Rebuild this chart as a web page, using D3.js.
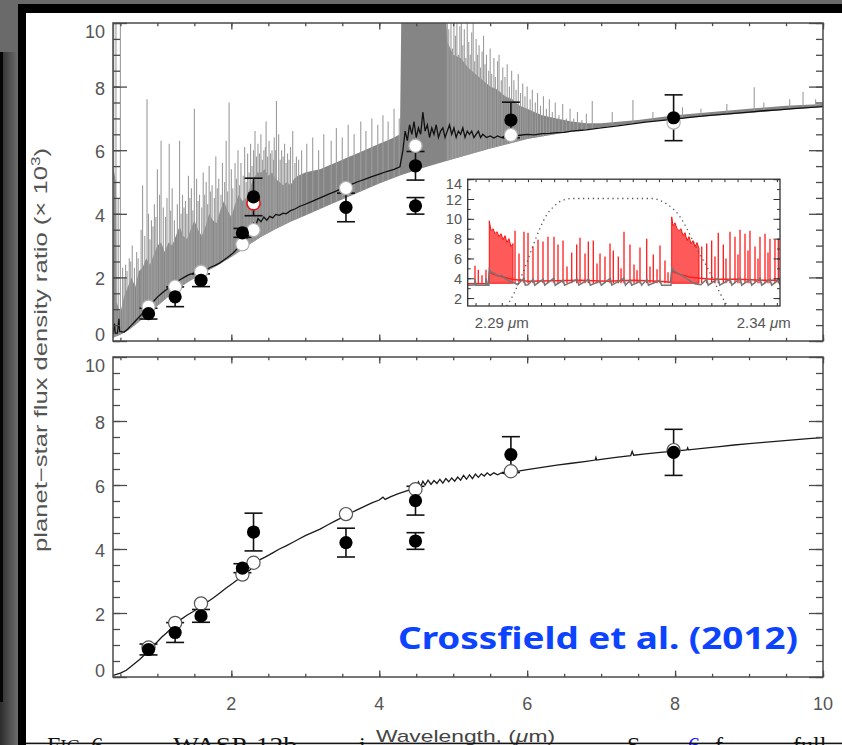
<!DOCTYPE html>
<html>
<head>
<meta charset="utf-8">
<script src="https://cdn.jsdelivr.net/npm/d3@7"></script>
<style>
  html, body { margin: 0; padding: 0; background: #fff; }
  svg { display: block; }
</style>
</head>
<body>
<svg id="chart" width="842" height="745"></svg>
<script>
// ---------------- data ----------------
// Measured planet/star flux ratios (x 10^3) with 1-sigma errors
const obsWave  = [0.88, 1.24, 1.59, 2.15, 2.30, 3.55, 4.49, 4.49, 5.78, 7.98];
const obsRatio = [0.86, 1.39, 1.91, 3.40, 4.53, 4.20, 5.51, 4.25, 6.95, 7.02];
const obsErr   = [0.17, 0.31, 0.20, 0.14, 0.59, 0.45, 0.45, 0.26, 0.56, 0.72];

// Band-integrated model fluxes
const bandWave        = [0.88, 1.24, 1.59, 2.15, 2.30, 3.55, 4.49, 5.78, 7.98];
const bandEmission    = [1.08, 1.71, 2.18, 3.04, 3.49, 4.81, 6.14, 6.48, 6.87];
const bandBlackbody   = [0.92, 1.69, 2.30, 3.20, 3.57, 5.09, 5.87, 6.43, 7.09];
const narrowBandWave  = [2.30];
const narrowBandValue = [4.33];

// Emission-line model: lower continuum, dense upper envelope and individual lines
const emissionFloor = [[0.40,0.10],[0.50,0.20],[0.60,0.32],[0.70,0.50],[0.80,0.70],[0.90,0.90],[1.00,1.10],[1.10,1.30],[1.20,1.50],[1.30,1.68],[1.40,1.83],[1.50,1.97],[1.60,2.10],[1.70,2.23],[1.80,2.36],[1.90,2.50],[2.00,2.64],[2.10,2.80],[2.20,2.97],[2.30,3.12],[2.40,3.27],[2.60,3.52],[2.80,3.75],[3.00,3.95],[3.30,4.25],[3.60,4.55],[4.00,4.95],[4.30,5.22],[4.60,5.45],[5.00,5.72],[5.50,6.05],[6.00,6.35],[6.50,6.55],[7.00,6.72],[7.50,6.86],[8.00,6.98],[8.50,7.08],[9.00,7.17],[9.50,7.27],[10.0,7.36]];

const emissionBand = [[0.40,5.5],[0.44,5.0],[0.45,1.2],[0.50,0.9],[0.55,1.4],[0.60,1.7],[0.65,2.0],[0.70,1.7],[0.75,2.2],[0.80,2.3],[0.85,2.6],[0.90,2.4],[0.95,2.7],[1.00,3.0],[1.05,3.1],[1.10,2.8],[1.15,3.1],[1.20,3.0],[1.25,3.3],[1.30,3.6],[1.35,3.3],[1.40,3.2],[1.45,3.5],[1.50,3.8],[1.55,3.5],[1.60,3.3],[1.65,3.6],[1.70,4.0],[1.75,3.8],[1.80,3.7],[1.85,4.1],[1.90,4.4],[1.95,4.1],[2.00,3.9],[2.05,4.3],[2.10,4.6],[2.15,4.4],[2.20,4.5],[2.25,4.8],[2.30,5.1],[2.35,5.3],[2.40,5.3],[2.45,5.4],[2.50,5.2],[2.55,5.3],[2.60,5.1],[2.65,5.0],[2.70,4.9],[2.75,5.0],[2.80,4.9],[2.85,5.1],[2.90,5.2],[3.00,5.3],[3.10,5.35],[3.20,5.4],[3.30,5.5],[3.40,5.6],[3.50,5.7],[3.60,5.8],[3.70,5.9],[3.80,6.0],[3.90,6.1],[4.00,6.2],[4.10,6.3],[4.20,6.4],[4.28,6.5],[4.30,10.6],[4.90,10.6],[4.92,9.4],[5.00,9.0],[5.10,8.9],[5.20,8.6],[5.30,8.4],[5.40,8.2],[5.50,8.0],[5.60,7.9],[5.70,7.7],[5.80,7.6],[5.90,7.4],[6.00,7.3],[6.20,7.1],[6.40,7.0],[6.60,6.9],[6.80,6.85],[7.00,6.85],[7.50,6.95],[8.00,7.1],[8.50,7.2],[9.00,7.3],[9.50,7.4],[10.0,7.45]];

const emissionLines = [[0.41,10.6],[0.44,10.6],[0.50,10.6],[0.47,4.5],[0.53,2.3],[0.55,2.0],[0.57,2.4],[0.59,2.2],[0.62,2.6],[0.64,2.5],[0.66,3.0],[0.69,2.3],[0.72,2.8],[0.74,2.6],[0.78,3.5],[0.80,4.9],[0.83,3.3],[0.86,7.6],[0.88,4.0],[0.90,3.2],[0.92,3.8],[0.94,3.6],[0.96,4.3],[0.98,3.9],[1.00,5.4],[1.03,4.6],[1.05,6.3],[1.08,4.2],[1.11,3.9],[1.13,4.5],[1.16,6.2],[1.18,4.1],[1.20,4.8],[1.23,3.8],[1.27,4.3],[1.30,6.3],[1.32,4.0],[1.34,4.6],[1.36,4.2],[1.38,4.4],[1.40,4.0],[1.42,5.2],[1.44,4.5],[1.46,4.8],[1.48,4.1],[1.50,7.3],[1.53,5.1],[1.55,4.4],[1.57,4.6],[1.60,4.2],[1.62,5.3],[1.64,4.6],[1.66,5.0],[1.68,4.3],[1.70,5.5],[1.72,4.7],[1.74,4.9],[1.77,4.5],[1.79,5.8],[1.81,4.8],[1.83,5.1],[1.86,4.6],[1.88,5.6],[1.91,5.0],[1.93,6.3],[1.95,4.7],[1.97,7.5],[2.00,5.4],[2.02,4.8],[2.05,5.6],[2.07,5.1],[2.09,6.0],[2.11,4.9],[2.13,5.6],[2.16,5.2],[2.18,6.1],[2.20,5.0],[2.22,5.9],[2.24,5.3],[2.26,6.2],[2.28,5.5],[2.30,6.0],[2.32,6.6],[2.34,5.8],[2.36,6.2],[2.38,5.9],[2.40,6.5],[2.42,5.7],[2.44,6.0],[2.46,6.1],[2.47,6.9],[2.49,5.8],[2.51,6.3],[2.53,5.9],[2.55,6.0],[2.57,5.7],[2.58,6.4],[2.60,6.0],[2.61,7.55],[2.64,6.5],[2.66,5.7],[2.68,6.0],[2.70,5.8],[2.72,6.2],[2.74,5.6],[2.76,5.9],[2.78,5.7],[2.80,6.1],[2.83,6.6],[2.86,5.6],[2.88,5.8],[2.91,5.7],[2.95,6.0],[3.02,6.2],[3.10,6.4],[3.18,6.0],[3.25,6.5],[3.35,6.3],[3.42,6.7],[3.50,6.4],[3.58,6.8],[3.66,6.5],[3.75,6.9],[3.82,6.6],[3.90,7.0],[3.98,6.8],[4.05,7.1],[4.12,6.9],[4.20,7.3],[4.27,7.0],[4.92,10.6],[4.94,9.8],[4.97,10.6],[4.99,9.2],[5.01,10.3],[5.03,9.6],[5.05,10.6],[5.07,9.0],[5.09,9.9],[5.11,10.6],[5.13,9.3],[5.15,9.8],[5.17,8.9],[5.19,10.1],[5.21,9.4],[5.23,9.0],[5.25,9.7],[5.27,10.1],[5.29,8.8],[5.31,9.5],[5.33,9.0],[5.35,9.3],[5.37,8.6],[5.39,9.1],[5.41,9.6],[5.43,8.7],[5.45,9.0],[5.48,8.5],[5.50,9.2],[5.52,8.4],[5.55,8.9],[5.57,8.3],[5.60,8.8],[5.62,9.0],[5.65,8.2],[5.67,8.6],[5.70,8.3],[5.73,8.7],[5.76,8.0],[5.79,8.5],[5.82,8.2],[5.85,7.9],[5.88,8.4],[5.91,7.8],[5.94,8.1],[5.97,7.7],[6.00,8.0],[6.04,7.6],[6.07,7.9],[6.11,7.5],[6.14,7.8],[6.18,7.4],[6.22,7.7],[6.26,7.3],[6.30,7.6],[6.34,7.2],[6.38,7.5],[6.43,7.1],[6.48,7.45],[6.53,7.0],[6.58,7.3],[6.63,7.0],[6.68,7.2],[6.74,6.95],[6.80,7.15],[6.88,7.55],[7.15,7.2],[7.43,7.58],[7.70,7.2],[8.10,7.35],[8.35,7.3],[8.70,7.45],[9.07,7.98],[9.20,7.5],[9.55,7.6],[9.73,7.84],[9.90,7.6]];

// Binned emission-line model (black curve, upper panel)
const emissionBinned = [[0.40,0.20],[0.42,0.55],[0.43,0.25],[0.46,0.25],[0.48,0.70],[0.49,0.30],[0.55,0.28],[0.60,0.38],[0.65,0.50],[0.70,0.62],[0.76,0.77],[0.82,0.92],[0.89,1.08],[0.95,1.25],[1.00,1.38],[1.06,1.50],[1.12,1.61],[1.18,1.72],[1.24,1.82],[1.30,1.92],[1.36,2.00],[1.42,2.08],[1.48,2.13],[1.54,2.17],[1.60,2.20],[1.66,2.24],[1.72,2.32],[1.78,2.38],[1.84,2.45],[1.90,2.55],[1.96,2.65],[2.02,2.76],[2.08,2.90],[2.14,3.04],[2.20,3.18],[2.24,3.35],[2.27,3.52],[2.30,3.70],[2.33,3.62],[2.36,3.85],[2.40,3.75],[2.44,3.90],[2.48,3.80],[2.52,3.92],[2.56,3.87],[2.60,3.98],[2.65,3.95],[2.70,4.02],[2.74,4.00],[2.80,4.10],[2.86,4.15],[2.92,4.23],[3.00,4.30],[3.10,4.40],[3.20,4.50],[3.30,4.60],[3.40,4.70],[3.50,4.80],[3.60,4.90],[3.70,5.00],[3.80,5.08],[3.90,5.17],[4.00,5.25],[4.10,5.33],[4.20,5.40],[4.28,5.48],[4.32,6.0],[4.35,6.6],[4.38,6.3],[4.41,6.8],[4.44,6.5],[4.47,6.9],[4.50,6.4],[4.53,6.7],[4.56,6.5],[4.59,7.2],[4.62,6.6],[4.65,6.8],[4.68,6.4],[4.71,6.7],[4.74,6.5],[4.77,6.8],[4.80,6.4],[4.83,6.6],[4.86,6.7],[4.89,6.4],[4.92,6.6],[4.95,6.8],[4.98,6.5],[5.01,6.7],[5.04,6.4],[5.07,6.6],[5.10,6.5],[5.13,6.7],[5.16,6.4],[5.19,6.6],[5.22,6.5],[5.25,6.6],[5.28,6.4],[5.31,6.5],[5.34,6.6],[5.37,6.4],[5.40,6.5],[5.45,6.4],[5.50,6.45],[5.55,6.38],[5.60,6.45],[5.65,6.40],[5.70,6.45],[5.75,6.42],[5.80,6.45],[5.90,6.47],[6.00,6.50],[6.10,6.48],[6.20,6.52],[6.30,6.53],[6.40,6.55],[6.50,6.56],[6.60,6.60],[6.70,6.62],[6.80,6.64],[6.90,6.67],[7.00,6.70],[7.20,6.76],[7.40,6.82],[7.60,6.88],[7.80,6.93],[8.00,6.98],[8.20,7.03],[8.40,7.08],[8.60,7.12],[8.80,7.16],[9.00,7.20],[9.20,7.24],[9.40,7.27],[9.60,7.31],[9.80,7.34],[10.0,7.37]];

// Model without emission lines (lower panel)
const absorptionModel = [[0.40,0.05],[0.50,0.12],[0.58,0.21],[0.66,0.36],[0.76,0.55],[0.82,0.68],[0.89,0.85],[1.00,1.10],[1.06,1.25],[1.12,1.37],[1.20,1.55],[1.30,1.77],[1.40,1.93],[1.48,2.04],[1.56,2.17],[1.66,2.32],[1.75,2.46],[1.84,2.62],[1.93,2.78],[2.02,2.93],[2.10,3.07],[2.20,3.25],[2.25,3.34],[2.30,3.48],[2.34,3.60],[2.38,3.66],[2.45,3.74],[2.56,3.88],[2.65,4.00],[2.74,4.10],[2.84,4.22],[2.92,4.32],[3.00,4.42],[3.10,4.52],[3.20,4.62],[3.30,4.75],[3.40,4.87],[3.50,4.99],[3.60,5.11],[3.70,5.22],[3.80,5.33],[3.90,5.44],[4.00,5.53],[4.05,5.62],[4.08,5.55],[4.15,5.63],[4.25,5.72],[4.35,5.80],[4.45,5.88],[4.50,5.92],[4.53,6.10],[4.56,5.95],[4.59,6.12],[4.62,6.00],[4.66,6.15],[4.70,6.02],[4.74,6.14],[4.78,6.05],[4.82,6.18],[4.86,6.06],[4.90,6.20],[4.94,6.10],[4.98,6.22],[5.02,6.12],[5.06,6.25],[5.10,6.15],[5.14,6.30],[5.18,6.18],[5.22,6.32],[5.26,6.20],[5.30,6.34],[5.34,6.24],[5.38,6.35],[5.42,6.28],[5.46,6.38],[5.50,6.30],[5.55,6.38],[5.60,6.32],[5.65,6.38],[5.70,6.35],[5.80,6.40],[5.90,6.44],[6.00,6.48],[6.20,6.55],[6.40,6.62],[6.60,6.68],[6.80,6.74],[6.92,6.78],[6.93,6.86],[6.94,6.78],[7.00,6.80],[7.20,6.86],[7.40,6.92],[7.42,7.05],[7.44,6.93],[7.60,6.97],[7.80,7.02],[8.00,7.06],[8.16,7.10],[8.17,7.16],[8.18,7.10],[8.40,7.15],[8.60,7.20],[8.80,7.25],[9.00,7.29],[9.20,7.33],[9.40,7.37],[9.60,7.41],[9.80,7.45],[10.0,7.48]];

// Inset: high-resolution spectra around the CO bandheads (2.29-2.34 um)
const insetRedFloor = [[2.2835,3.45],[2.2874,3.45],[2.28762,4.6],[2.2890,4.3],[2.2920,3.9],[2.2950,3.7],[2.3000,3.75],[2.3050,3.8],[2.3100,3.7],[2.3150,3.8],[2.3200,3.7],[2.3222,3.6],[2.32243,4.7],[2.3240,4.4],[2.3260,4.1],[2.3300,3.9],[2.3350,3.9],[2.3400,3.8],[2.3431,3.8]];
const insetRedHead1 = [[2.28762,9.8],[2.28795,8.8],[2.28833,9.0],[2.28871,8.5],[2.28909,8.7],[2.28947,8.2],[2.28986,8.5],[2.29024,7.9],[2.29062,8.3],[2.29100,7.6],[2.29138,8.0],[2.29176,7.2],[2.29215,7.5]];
const insetRedHead2 = [[2.32243,10.2],[2.32268,9.3],[2.32306,9.6],[2.32344,9.0],[2.32382,8.8],[2.32421,9.0],[2.32459,8.3],[2.32497,8.6],[2.32535,7.8],[2.32573,8.2],[2.32611,7.5],[2.32650,7.8],[2.32688,7.2],[2.32726,7.6],[2.32764,7.0]];
const insetRedLines = [[2.28489,5.26],[2.28552,4.86],[2.28623,4.3],[2.28699,4.86],[2.29253,8.8],[2.29329,6.5],[2.29424,8.7],[2.29501,8.6],[2.29596,7.2],[2.29692,7.9],[2.29787,7.7],[2.29882,8.2],[2.29997,8.2],[2.30073,7.4],[2.30169,7.8],[2.30245,5.2],[2.30335,6.6],[2.30430,7.4],[2.30493,8.1],[2.30589,6.5],[2.30652,7.7],[2.30747,7.8],[2.30818,5.5],[2.30875,6.5],[2.30970,6.2],[2.31066,7.5],[2.31129,6.8],[2.31224,6.2],[2.31276,5.0],[2.31333,8.7],[2.31447,7.4],[2.31524,5.4],[2.31581,4.8],[2.31638,7.1],[2.31766,8.0],[2.31829,5.2],[2.31892,6.4],[2.31963,4.9],[2.32020,7.3],[2.32115,5.8],[2.32173,4.6],[2.32816,7.2],[2.32911,7.5],[2.33006,7.8],[2.33069,6.2],[2.33132,8.6],[2.33228,7.4],[2.33279,6.0],[2.33356,8.7],[2.33451,8.2],[2.33508,6.4],[2.33547,8.9],[2.33642,8.5],[2.33699,6.8],[2.33737,8.8],[2.33833,7.2],[2.33890,6.0],[2.33928,8.2],[2.34024,8.5],[2.34081,6.6],[2.34119,8.0],[2.34214,7.9],[2.34278,8.0]];
const insetGray = [[2.2835,3.30],[2.2848,3.32],[2.2849,3.9],[2.2851,3.3],[2.2869,3.3],[2.2870,4.0],[2.2872,3.3],[2.28755,3.3],[2.28762,4.9],[2.2880,4.6],[2.2886,4.5],[2.2893,4.2],[2.2900,4.3],[2.2908,3.9],[2.2916,3.7],[2.2925,3.5],[2.2930,3.35],[2.2942,4.0],[2.2945,3.3],[2.2950,3.35],[2.2960,3.9],[2.2963,3.3],[2.2979,3.9],[2.2982,3.3],[2.2999,4.0],[2.3002,3.3],[2.3017,3.8],[2.3020,3.3],[2.3044,3.9],[2.3047,3.3],[2.3066,3.9],[2.3069,3.3],[2.3087,3.7],[2.3090,3.3],[2.3107,4.0],[2.3110,3.3],[2.3133,4.0],[2.3136,3.3],[2.3145,3.8],[2.3148,3.3],[2.3164,3.7],[2.3167,3.3],[2.3177,3.9],[2.3180,3.3],[2.3202,3.8],[2.3205,3.3],[2.3223,3.3],[2.32243,5.0],[2.3230,4.7],[2.3236,4.5],[2.3244,4.3],[2.3252,4.0],[2.3260,3.7],[2.3268,3.45],[2.3280,3.35],[2.3291,3.9],[2.3294,3.3],[2.3313,4.0],[2.3316,3.3],[2.3336,3.9],[2.3339,3.3],[2.3355,4.0],[2.3358,3.3],[2.3374,3.9],[2.3377,3.3],[2.3393,4.0],[2.3396,3.3],[2.3412,3.9],[2.3415,3.3],[2.3428,3.8],[2.3431,3.3]];
// Narrow-band filter transmission (scaled)
const insetFilter = [[2.29094,1.2],[2.29220,2.33],[2.29348,3.85],[2.29476,5.53],[2.29602,7.37],[2.29730,9.05],[2.29858,10.4],[2.29984,11.2],[2.30174,11.9],[2.30365,12.05],[2.31892,12.05],[2.32020,11.85],[2.32148,11.5],[2.32274,11.0],[2.32402,10.2],[2.32529,9.05],[2.32655,7.7],[2.32783,6.4],[2.32911,5.2],[2.33037,3.85],[2.33165,2.5],[2.33293,1.3]];

// Axis ticks and labels
const xMajor = [2, 4, 6, 8, 10];
const xMinor = d3.range(0.5, 10.01, 0.5);
const yMajor = [0, 2, 4, 6, 8, 10];
const yMinor = d3.range(0, 10.01, 0.5);
const insetYMajor = [2, 4, 6, 8, 10, 12, 14];
const insetYMinor = [2, 3, 4, 5, 6, 7, 8, 9, 10, 11, 12, 13, 14];
const insetXTicks = d3.range(2.285, 2.3426, 0.0025);
const insetXLabels = [2.29, 2.34];

// ---------------- drawing ----------------
const W = 842, H = 745;
const svg = d3.select("#chart");
const defs = svg.append("defs");
const ink = "#4a4a4a", labelInk = "#555";
const sansFont = "'Liberation Sans', Arial, sans-serif";

// page backdrop and window frame
const shade = defs.append("linearGradient").attr("id", "sideShade")
  .attr("x1", 0).attr("x2", 1).attr("y1", 0).attr("y2", 0);
shade.append("stop").attr("offset", 0).attr("stop-color", "#2c2c2c");
shade.append("stop").attr("offset", 1).attr("stop-color", "#6e6e6e");
svg.append("rect").attr("width", W).attr("height", H).attr("fill", "#fff");
svg.append("rect").attr("width", W).attr("height", 5).attr("fill", "#6a6a6a");
svg.append("rect").attr("width", 18).attr("height", H).attr("fill", "url(#sideShade)");
svg.append("rect").attr("width", 18).attr("height", 52).attr("fill", "#6a6a6a");
svg.append("rect").attr("x", 0).attr("y", 52).attr("width", 3).attr("height", 650).attr("fill", "#050505");
svg.append("rect").attr("x", 18).attr("y", 4).attr("width", W - 18).attr("height", 9).attr("fill", "#000");
svg.append("rect").attr("x", 18).attr("y", 4).attr("width", 8).attr("height", H).attr("fill", "#000");

// scales
const x = d3.scaleLinear().domain([0.4, 10]).range([113, 823]);
const yTop = d3.scaleLinear().domain([0, 10]).range([341, 23]);
const yBot = d3.scaleLinear().domain([0, 10]).range([677, 357]);

function clipRect(id, x0, y0, x1, y1) {
  defs.append("clipPath").attr("id", id).append("rect")
    .attr("x", x0).attr("y", y0).attr("width", x1 - x0).attr("height", y1 - y0);
}
clipRect("clipTop", 113, 23, 823, 341);
clipRect("clipBot", 113, 357, 823, 677);

function lineOf(sx, sy) {
  return d3.line().x(d => sx(d[0])).y(d => sy(d[1]));
}

function drawTicks(y) {
  const [y0, y1] = [y.range()[0], y.range()[1]];
  const [x0, x1] = x.range();
  const g = svg.append("g");
  const style = sel => { sel.select(".domain").remove(); sel.selectAll("line").attr("stroke", ink).attr("stroke-width", 1.3); };
  g.append("g").attr("transform", `translate(0,${y0})`).call(d3.axisBottom(x).tickValues(xMinor).tickSize(-3.2).tickFormat("")).call(style);
  g.append("g").attr("transform", `translate(0,${y0})`).call(d3.axisBottom(x).tickValues(xMajor).tickSize(-6.4).tickFormat("")).call(style);
  g.append("g").attr("transform", `translate(0,${y1})`).call(d3.axisTop(x).tickValues(xMinor).tickSize(-3.2).tickFormat("")).call(style);
  g.append("g").attr("transform", `translate(0,${y1})`).call(d3.axisTop(x).tickValues(xMajor).tickSize(-6.4).tickFormat("")).call(style);
  g.append("g").attr("transform", `translate(${x0},0)`).call(d3.axisLeft(y).tickValues(yMinor).tickSize(-7).tickFormat("")).call(style);
  g.append("g").attr("transform", `translate(${x0},0)`).call(d3.axisLeft(y).tickValues(yMajor).tickSize(-14).tickFormat("")).call(style);
  g.append("g").attr("transform", `translate(${x1},0)`).call(d3.axisRight(y).tickValues(yMinor).tickSize(-7).tickFormat("")).call(style);
  g.append("g").attr("transform", `translate(${x1},0)`).call(d3.axisRight(y).tickValues(yMajor).tickSize(-14).tickFormat("")).call(style);
  g.append("rect").attr("x", x0).attr("y", y1).attr("width", x1 - x0).attr("height", y0 - y1)
    .attr("fill", "none").attr("stroke", ink).attr("stroke-width", 1.5);
  // y tick labels, end labels kept inside the frame height
  g.selectAll("text.ylab").data(yMajor).join("text")
    .attr("x", 105).attr("text-anchor", "end")
    .attr("y", v => v === 10 ? y(v) + 15 : v === 0 ? y(v) - 0.5 : y(v) + 8)
    .attr("font-family", sansFont).attr("font-size", 18).attr("fill", labelInk)
    .text(v => v);
}

function drawObservations(y, openVals, openStroke, extra) {
  const g = svg.append("g");
  const cap = 9, r = 6.6;
  obsWave.forEach((w, i) => {
    const cx = x(w), lo = y(obsRatio[i] - obsErr[i]), hi = y(obsRatio[i] + obsErr[i]);
    g.append("line").attr("x1", cx).attr("x2", cx).attr("y1", lo).attr("y2", hi).attr("stroke", "#111").attr("stroke-width", 1.6);
    g.append("line").attr("x1", cx - cap).attr("x2", cx + cap).attr("y1", lo).attr("y2", lo).attr("stroke", "#111").attr("stroke-width", 1.6);
    g.append("line").attr("x1", cx - cap).attr("x2", cx + cap).attr("y1", hi).attr("y2", hi).attr("stroke", "#111").attr("stroke-width", 1.6);
  });
  g.selectAll("circle.band").data(bandWave).join("circle")
    .attr("cx", w => x(w)).attr("cy", (w, i) => y(openVals[i])).attr("r", r)
    .attr("fill", "#fff").attr("stroke", openStroke).attr("stroke-width", 1.2);
  if (extra) extra(g, r);
  g.selectAll("circle.obs").data(obsWave).join("circle")
    .attr("cx", w => x(w)).attr("cy", (w, i) => y(obsRatio[i])).attr("r", r)
    .attr("fill", "#000");
}

// ---- upper panel ----
const upperPanel = svg.append("g").attr("clip-path", "url(#clipTop)");
const lnTop = lineOf(x, yTop);
upperPanel.append("path")
  .attr("d", lnTop(emissionBand.concat(emissionFloor.slice().reverse())) + "Z")
  .attr("fill", "#858585");
defs.append("clipPath").attr("id", "aboveFloor").append("path")
  .attr("d", lnTop(emissionFloor.concat([[10, 10.8], [0.4, 10.8]])) + "Z");
upperPanel.append("g").attr("clip-path", "url(#aboveFloor)")
  .selectAll("line").data(emissionLines).join("line")
  .attr("x1", d => x(d[0])).attr("x2", d => x(d[0]))
  .attr("y1", yTop(0)).attr("y2", d => yTop(d[1]))
  .attr("stroke", "#9c9c9c").attr("stroke-width", 1.1);
upperPanel.append("path").attr("d", lnTop(emissionBinned))
  .attr("fill", "none").attr("stroke", "#111").attr("stroke-width", 1.3);

drawObservations(yTop, bandEmission, "#b0b0b0", (g, r) => {
  g.selectAll("circle.narrow").data(narrowBandWave).join("circle")
    .attr("cx", w => x(w)).attr("cy", (w, i) => yTop(narrowBandValue[i])).attr("r", r)
    .attr("fill", "#fff").attr("stroke", "#e8141c").attr("stroke-width", 1.6);
});
drawTicks(yTop);

// ---- inset ----
const xIn = d3.scaleLinear().domain([2.2835, 2.3431]).range([467.7, 780]);
const yIn = d3.scaleLinear().domain([1.2, 14]).range([306, 179.2]);
clipRect("clipInset", 467.7, 179.2, 780, 306);
svg.append("rect").attr("x", 467.7).attr("y", 179.2).attr("width", 312.3).attr("height", 126.8).attr("fill", "#fff");
const insetPanel = svg.append("g").attr("clip-path", "url(#clipInset)");
const lnIn = lineOf(xIn, yIn);
const redFloorLevel = 3.5;
[insetRedHead1, insetRedHead2].forEach(head => {
  const base = [[head[head.length - 1][0], redFloorLevel], [head[0][0], redFloorLevel]];
  insetPanel.append("path").attr("d", lnIn(head.concat(base)) + "Z")
    .attr("fill", "#ff5a5a").attr("stroke", "#ff1010").attr("stroke-width", 1);
});
insetPanel.selectAll("line.red").data(insetRedLines).join("line")
  .attr("x1", d => xIn(d[0])).attr("x2", d => xIn(d[0]))
  .attr("y1", yIn(redFloorLevel)).attr("y2", d => yIn(d[1]))
  .attr("stroke", "#ff1a1a").attr("stroke-width", 1.3);
insetPanel.append("path").attr("d", lnIn(insetRedFloor))
  .attr("fill", "none").attr("stroke", "#ff2020").attr("stroke-width", 1.4);
insetPanel.append("path").attr("d", lnIn(insetGray))
  .attr("fill", "none").attr("stroke", "#767676").attr("stroke-width", 1.5);
insetPanel.append("path").attr("d", lineOf(xIn, yIn).curve(d3.curveMonotoneX)(insetFilter))
  .attr("fill", "none").attr("stroke", "#555").attr("stroke-width", 1.3).attr("stroke-dasharray", "1.3,3.6");

{
  const g = svg.append("g");
  const style = sel => { sel.select(".domain").remove(); sel.selectAll("line").attr("stroke", "#333").attr("stroke-width", 1); };
  g.append("g").attr("transform", "translate(0,306)").call(d3.axisBottom(xIn).tickValues(insetXTicks).tickSize(-3).tickFormat("")).call(style);
  g.append("g").attr("transform", "translate(0,179.2)").call(d3.axisTop(xIn).tickValues(insetXTicks).tickSize(-3).tickFormat("")).call(style);
  g.append("g").attr("transform", "translate(467.7,0)").call(d3.axisLeft(yIn).tickValues(insetYMinor).tickSize(-3).tickFormat("")).call(style);
  g.append("g").attr("transform", "translate(467.7,0)").call(d3.axisLeft(yIn).tickValues(insetYMajor).tickSize(-6.5).tickFormat("")).call(style);
  g.append("g").attr("transform", "translate(780,0)").call(d3.axisRight(yIn).tickValues(insetYMinor).tickSize(-3).tickFormat("")).call(style);
  g.append("g").attr("transform", "translate(780,0)").call(d3.axisRight(yIn).tickValues(insetYMajor).tickSize(-6.5).tickFormat("")).call(style);
  g.append("rect").attr("x", 467.7).attr("y", 179.2).attr("width", 312.3).attr("height", 126.8)
    .attr("fill", "none").attr("stroke", "#333").attr("stroke-width", 1.3);
  g.selectAll("text.iy").data(insetYMajor).join("text")
    .attr("x", 462).attr("text-anchor", "end")
    .attr("y", v => v === 14 ? yIn(v) + 10 : yIn(v) + 5.5)
    .attr("font-family", sansFont).attr("font-size", 14.5).attr("fill", labelInk)
    .text(v => v);
  insetXLabels.forEach(v => {
    const t = g.append("text").attr("x", xIn(v)).attr("y", 327.5).attr("text-anchor", "middle")
      .attr("font-family", sansFont).attr("font-size", 15).attr("fill", labelInk);
    t.append("tspan").text(v.toFixed(2) + "  ");
    t.append("tspan").attr("font-style", "italic").text("\u03bc");
    t.append("tspan").text("m");
  });
}

// ---- lower panel ----
const lowerPanel = svg.append("g").attr("clip-path", "url(#clipBot)");
lowerPanel.append("path").attr("d", lineOf(x, yBot)(absorptionModel))
  .attr("fill", "none").attr("stroke", "#1a1a1a").attr("stroke-width", 1.3);
drawObservations(yBot, bandBlackbody, "#555", null);
drawTicks(yBot);

// x tick labels
svg.append("g").selectAll("text").data(xMajor).join("text")
  .attr("x", v => x(v)).attr("y", 710).attr("text-anchor", "middle")
  .attr("font-family", sansFont).attr("font-size", 18).attr("fill", labelInk)
  .text(v => v);

// axis titles
{
  const t = svg.append("text").attr("transform", "translate(46.5,350) rotate(-90)")
    .attr("text-anchor", "middle").attr("font-family", sansFont).attr("font-size", 18)
    .attr("fill", labelInk).attr("textLength", 404).attr("lengthAdjust", "spacingAndGlyphs");
  t.append("tspan").text("planet\u2212star flux density ratio (\u00d7 10");
  t.append("tspan").attr("font-size", 12).attr("dy", -7).text("3");
  t.append("tspan").attr("dy", 7).text(")");
}
{
  const t = svg.append("text").attr("x", 465.5).attr("y", 741.5).attr("text-anchor", "middle")
    .attr("font-family", sansFont).attr("font-size", 17).attr("fill", "#444")
    .attr("textLength", 179).attr("lengthAdjust", "spacingAndGlyphs");
  t.append("tspan").text("Wavelength, (");
  t.append("tspan").attr("font-style", "italic").text("\u03bc");
  t.append("tspan").text("m)");
}

// citation
svg.append("text").attr("x", 398).attr("y", 649)
  .attr("font-family", "'Noto Sans', 'Open Sans', sans-serif").attr("font-weight", 700)
  .attr("font-size", 30).attr("fill", "#0b43ff")
  .attr("textLength", 400).attr("lengthAdjust", "spacingAndGlyphs")
  .text("Crossfield et al. (2012)");

// figure caption running off the bottom of the page
{
  const cap = svg.append("g").attr("font-family", "'Liberation Serif', 'Times New Roman', serif")
    .attr("font-size", 24).attr("fill", "#111");
  const f = cap.append("text").attr("x", 47).attr("y", 753);
  f.append("tspan").text("F");
  f.append("tspan").attr("font-size", 19).text("IG.");
  f.append("tspan").text("  6.\u2014");
  cap.append("text").attr("x", 173).attr("y", 753).attr("textLength", 124).attr("lengthAdjust", "spacingAndGlyphs").text("WASP-12b");
  cap.append("text").attr("x", 359).attr("y", 753).text("i");
  cap.append("text").attr("x", 627).attr("y", 753).text("S");
  cap.append("text").attr("x", 688).attr("y", 753).attr("fill", "#1a1aff").text("6");
  cap.append("text").attr("x", 715).attr("y", 753).text("f");
  cap.append("text").attr("x", 793).attr("y", 753).text("full");
}
svg.append("rect").attr("x", 26).attr("y", 742.6).attr("width", W - 26).attr("height", 1.6).attr("fill", "#151515");
</script>
</body>
</html>
